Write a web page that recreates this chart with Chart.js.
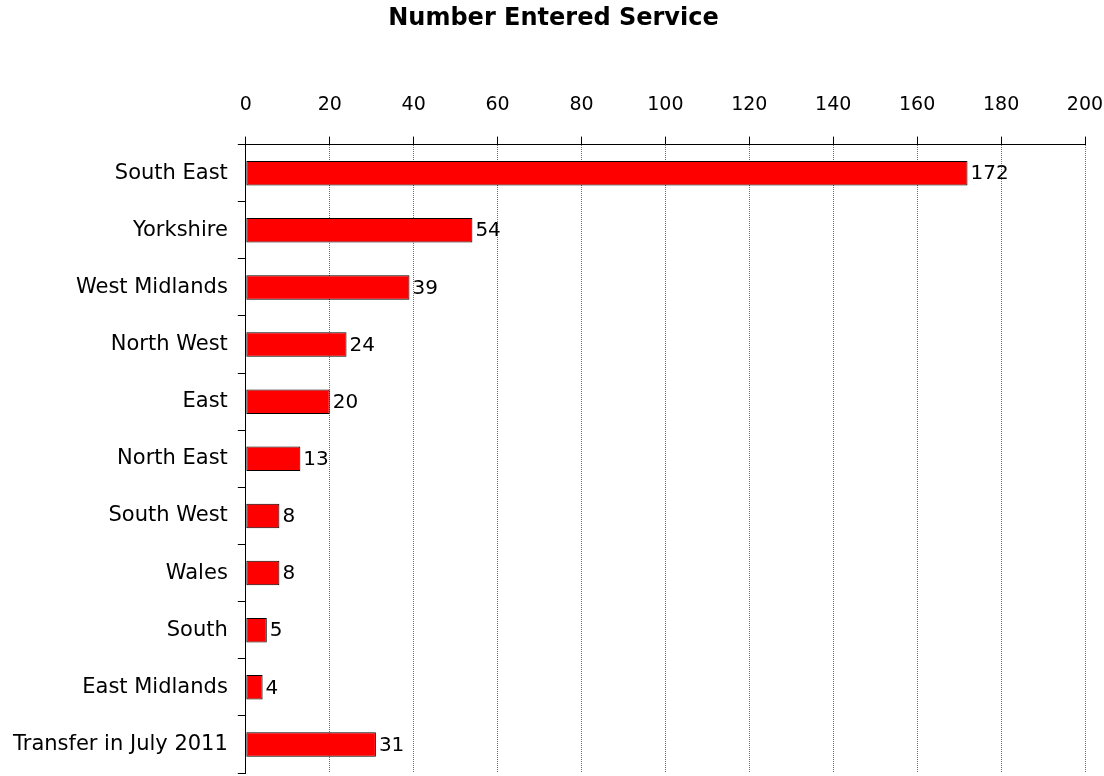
<!DOCTYPE html>
<html>
<head>
<meta charset="utf-8">
<script src="https://cdn.jsdelivr.net/npm/chart.js@4"></script>
<style>
  html, body { margin: 0; padding: 0; background: #fff; }
  #wrap { width: 1104px; height: 776px; }
</style>
</head>
<body>
<div id="wrap"><canvas id="my_chart"></canvas></div>
<script>
var regions = ["South East", "Yorkshire", "West Midlands", "North West", "East",
  "North East", "South West", "Wales", "South", "East Midlands", "Transfer in July 2011"];
var entered = [172, 54, 39, 24, 20, 13, 8, 8, 5, 4, 31];
var xTicks = [0, 20, 40, 60, 80, 100, 120, 140, 160, 180, 200];

var fontFamily = "'DejaVu Sans', sans-serif";

// writes the value just past the end of each bar
var barValues = {
  id: "barValues",
  afterDatasetsDraw: function (chart) {
    var ctx = chart.ctx;
    var meta = chart.getDatasetMeta(0);
    ctx.save();
    ctx.font = "20px " + fontFamily;
    ctx.fillStyle = "#000";
    ctx.textAlign = "left";
    ctx.textBaseline = "middle";
    meta.data.forEach(function (bar, i) {
      ctx.fillText(String(entered[i]), bar.x + 3, bar.y + 1);
    });
    ctx.restore();
  }
};

var ctx = document.getElementById("my_chart").getContext("2d");
var myChart = new Chart(ctx, {
  type: "bar",
  data: {
    labels: regions,
    datasets: [{
      data: entered,
      backgroundColor: "#ff0000",
      borderColor: "#000000",
      borderWidth: 1,
      borderSkipped: false,
      categoryPercentage: 1,
      barPercentage: 0.43
    }]
  },
  options: {
    indexAxis: "y",
    responsive: true,
    maintainAspectRatio: false,
    animation: false,
    layout: { padding: { left: 3, right: 0, bottom: 3, top: 0 } },
    plugins: {
      legend: { display: false },
      tooltip: { enabled: false },
      title: {
        display: true,
        text: "Number Entered Service",
        color: "#000",
        font: { family: fontFamily, size: 24, weight: "bold" },
        padding: { top: 4, bottom: 41 }
      }
    },
    scales: {
      x: {
        position: "top",
        min: 0,
        max: 200,
        afterBuildTicks: function (scale) {
          scale.ticks = xTicks.map(function (v) { return { value: v }; });
        },
        afterFit: function (scale) {
          scale.paddingRight = 19;
        },
        ticks: {
          color: "#000",
          font: { family: fontFamily, size: 19 },
          padding: 20
        },
        grid: {
          color: "#6e6e6e",
          tickColor: "#000",
          tickLength: 8,
          lineWidth: 1
        },
        border: { color: "#000", width: 1, dash: [1, 1] }
      },
      y: {
        afterFit: function (scale) {
          scale.paddingTop = 0;
          scale.paddingBottom = 0;
        },
        ticks: {
          color: "#000",
          font: { family: fontFamily, size: 21 },
          padding: 10
        },
        grid: {
          offset: true,
          drawOnChartArea: false,
          tickColor: "#000",
          tickLength: 8
        },
        border: { color: "#000", width: 1 }
      }
    }
  },
  plugins: [barValues]
});
</script>
</body>
</html>
